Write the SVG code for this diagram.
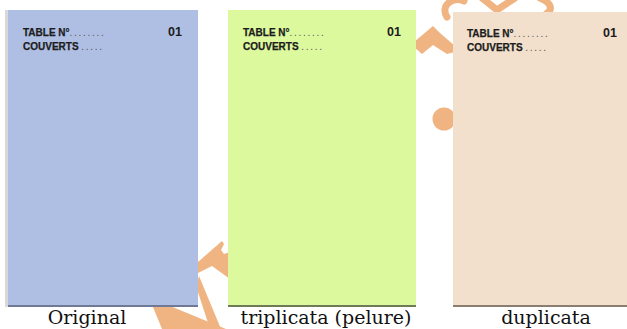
<svg xmlns="http://www.w3.org/2000/svg" width="627" height="329" viewBox="0 0 627 329">
<style>
.wm{fill:#F0B482;}
.wms{fill:none;stroke:#F0B482;stroke-width:7;stroke-linecap:round;}
.hd{font-family:"Liberation Sans",Arial,sans-serif;font-weight:bold;font-size:10px;fill:#1c1c1c;stroke:#1c1c1c;stroke-width:0.25px;}
.dots{font-weight:normal;fill:#555;stroke:none;letter-spacing:1.7px;}
.num{font-family:"Liberation Sans",Arial,sans-serif;font-weight:bold;font-size:12.5px;fill:#1c1c1c;}
.lbl{font-family:"DejaVu Serif","Liberation Serif",serif;font-size:19px;fill:#111;text-anchor:middle;}
</style>
<rect width="627" height="329" fill="#ffffff"/>
<g id="watermark">
  <polygon class="wm" points="153,307 170,306 226,329 162,329"/>
  <polygon class="wm" points="196,286 199,276 221,329 210,329"/>
  <polygon class="wm" points="198,262 222,241 224,244 221,250 224,254 230,252 230,279 212,266 198,273"/>
  <polygon class="wm" points="414,42 433,26 440,33 455,46 455,52 447,54 433,45 422,54 414,47"/>
  <circle class="wm" cx="444" cy="119" r="11.5"/>
  <path class="wms" d="M447,17 C440,6 452,-4 464,1"/>
  <path class="wms" d="M482,-2 L497,10 L515,-2"/>
  <path class="wms" d="M540,-2 C552,3 553,10 546,14"/>
</g>
<g id="original">
  <rect x="5" y="10" width="4" height="297" fill="#D9D9D9"/>
  <rect x="8" y="10" width="190" height="296" fill="#AFBFE3"/>
  <rect x="8" y="305" width="190" height="2" fill="#6F7894"/>
  <text class="hd" x="23" y="35.5">TABLE N°<tspan class="dots">........</tspan></text>
  <text class="hd" x="23" y="49.5">COUVERTS <tspan class="dots">.....</tspan></text>
  <text class="num" x="168" y="36">01</text>
</g>
<g id="triplicata">
  <rect x="228" y="10" width="188" height="296" fill="#DDF99E"/>
  <rect x="228" y="305" width="188" height="2" fill="#6F7A58"/>
  <text class="hd" x="243" y="35.5">TABLE N°<tspan class="dots">........</tspan></text>
  <text class="hd" x="243" y="49.5">COUVERTS <tspan class="dots">.....</tspan></text>
  <text class="num" x="387" y="36">01</text>
</g>
<g id="duplicata">
  <rect x="453" y="12" width="174" height="294" fill="#F2E0CC"/>
  <rect x="453" y="305" width="174" height="2" fill="#8A7E70"/>
  <text class="hd" x="467" y="37">TABLE N°<tspan class="dots">........</tspan></text>
  <text class="hd" x="467" y="51">COUVERTS <tspan class="dots">.....</tspan></text>
  <text class="num" x="603" y="37">01</text>
</g>
<g id="labels">
  <text class="lbl" x="87" y="324">Original</text>
  <text class="lbl" x="326" y="324">triplicata (pelure)</text>
  <text class="lbl" x="546" y="324">duplicata</text>
</g>
<g id="connectors"/>
</svg>
